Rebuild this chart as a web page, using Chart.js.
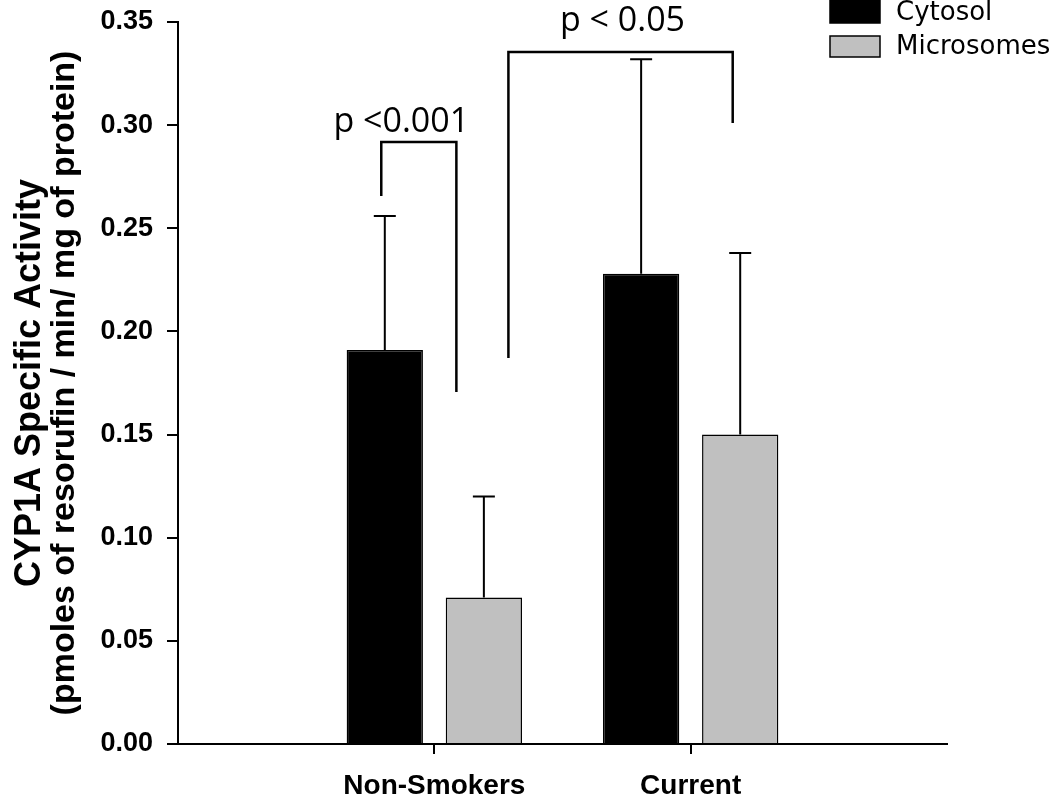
<!DOCTYPE html>
<html>
<head>
<meta charset="utf-8">
<script src="https://cdn.jsdelivr.net/npm/chart.js@4"></script>
<style>
    html, body { margin: 0; padding: 0; background: #fff; }
    #wrap { width: 1050px; height: 796px; }
</style>
</head>
<body>
<div id="wrap"><canvas id="chart" width="1050" height="796"></canvas></div>
<script>
// Values
const categories = ['Non-Smokers', 'Current'];
const cytosol = [0.191, 0.228];
const cytosolErr = [0.065, 0.104];
const microsomes = [0.071, 0.150];
const microsomesErr = [0.049, 0.088];
const yTicks = [0, 0.05, 0.10, 0.15, 0.20, 0.25, 0.30, 0.35];
const yTitle = ['CYP1A Specific Activity', '(pmoles of resorufin / min/ mg of protein)'];

// Significance brackets, in axis units (x = category index, y = value)
const brackets = [
    { text: 'p <0.001', x1: 0.793, x2: 1.086, top: 0.2918, leftEnd: 0.2656, rightEnd: 0.1706, tx: 0.871, ty: 0.2965 },
    { text: 'p < 0.05', x1: 1.289, x2: 2.164, top: 0.3355, leftEnd: 0.1871, rightEnd: 0.301, tx: 1.734, ty: 0.3455 }
];

// empty slots either side so the groups sit where the original axis puts them
const labels = ['', ...categories, ''];
const pad = arr => [null, ...arr, null];

const errorBars = {
    id: 'errorBars',
    afterDatasetsDraw(chart) {
        const ctx = chart.ctx;
        const y = chart.scales.y;
        chart.data.datasets.forEach((ds, i) => {
            const meta = chart.getDatasetMeta(i);
            meta.data.forEach((bar, j) => {
                const v = ds.data[j];
                if (v === null || v === undefined) return;
                const top = y.getPixelForValue(v + ds.errors[j]);
                ctx.save();
                ctx.strokeStyle = '#000';
                ctx.lineWidth = 2;
                ctx.beginPath();
                ctx.moveTo(bar.x, bar.y);
                ctx.lineTo(bar.x, top);
                ctx.moveTo(bar.x - 11, top);
                ctx.lineTo(bar.x + 11, top);
                ctx.stroke();
                ctx.restore();
            });
        });
    }
};

const annotations = {
    id: 'annotations',
    afterDraw(chart) {
        const ctx = chart.ctx;
        const x = chart.scales.x;
        const y = chart.scales.y;
        const area = chart.chartArea;

        // brackets + p values
        ctx.save();
        ctx.strokeStyle = '#000';
        ctx.lineWidth = 2.5;
        ctx.fillStyle = '#000';
        ctx.font = '34px "Open Sans"';
        ctx.textAlign = 'center';
        ctx.textBaseline = 'alphabetic';
        brackets.forEach(b => {
            const xa = x.getPixelForValue(b.x1);
            const xb = x.getPixelForValue(b.x2);
            const yt = y.getPixelForValue(b.top);
            ctx.beginPath();
            ctx.moveTo(xa, y.getPixelForValue(b.leftEnd));
            ctx.lineTo(xa, yt);
            ctx.lineTo(xb, yt);
            ctx.lineTo(xb, y.getPixelForValue(b.rightEnd));
            ctx.stroke();
            ctx.fillText(b.text, x.getPixelForValue(b.tx), y.getPixelForValue(b.ty));
        });
        ctx.restore();

        // y axis title, two lines, first one a bit larger
        ctx.save();
        ctx.fillStyle = '#000';
        ctx.textAlign = 'center';
        ctx.textBaseline = 'middle';
        ctx.translate(0, (area.top + area.bottom) / 2);
        ctx.rotate(-Math.PI / 2);
        ctx.font = 'bold 36px "Liberation Sans"';
        ctx.fillText(yTitle[0], 0, 30);
        ctx.font = 'bold 34px "Liberation Sans"';
        ctx.fillText(yTitle[1], 0, 65);
        ctx.restore();

        // legend, top right
        ctx.save();
        ctx.font = '26px "DejaVu Sans"';
        ctx.textBaseline = 'middle';
        ctx.textAlign = 'left';
        chart.data.datasets.forEach((ds, i) => {
            const top = i === 0 ? 0 : 36;
            const h = i === 0 ? 23 : 21;
            ctx.fillStyle = ds.backgroundColor;
            ctx.fillRect(830, top, 50, h);
            ctx.strokeStyle = '#000';
            ctx.lineWidth = 1.5;
            ctx.strokeRect(830, top, 50, h);
            ctx.fillStyle = '#000';
            ctx.fillText(ds.label, 896, i === 0 ? 13 : 47);
        });
        ctx.restore();
    }
};

const tickColor = c => (c.index === 0 || c.index === labels.length - 1) ? 'rgba(0,0,0,0)' : '#000';

new Chart(document.getElementById('chart'), {
    type: 'bar',
    data: {
        labels: labels,
        datasets: [
            {
                label: 'Cytosol',
                data: pad(cytosol),
                errors: pad(cytosolErr),
                backgroundColor: '#000000',
                borderColor: '#000000',
                borderWidth: 1.5
            },
            {
                label: 'Microsomes',
                data: pad(microsomes),
                errors: pad(microsomesErr),
                backgroundColor: '#c0c0c0',
                borderColor: '#000000',
                borderWidth: 1.5
            }
        ]
    },
    options: {
        responsive: false,
        animation: false,
        devicePixelRatio: 1,
        categoryPercentage: 0.773,
        barPercentage: 0.77,
        layout: {
            padding: { top: 22, right: 103, left: 0, bottom: 0 }
        },
        plugins: {
            legend: { display: false },
            tooltip: { enabled: false }
        },
        scales: {
            x: {
                type: 'category',
                offset: false,
                grid: {
                    display: true,
                    offset: false,
                    drawOnChartArea: false,
                    drawTicks: true,
                    tickLength: 10,
                    lineWidth: 2,
                    color: tickColor,
                    tickColor: tickColor
                },
                border: { display: true, color: '#000', width: 2 },
                ticks: {
                    color: '#000',
                    autoSkip: false,
                    maxRotation: 0,
                    padding: 15,
                    font: { family: 'Liberation Sans', weight: 'bold', size: 28 }
                },
                afterFit(scale) {
                    scale.height = 52;
                    scale.paddingLeft = 0;
                    scale.paddingRight = 0;
                }
            },
            y: {
                min: 0,
                max: 0.35,
                afterBuildTicks(scale) {
                    scale.ticks = yTicks.map(v => ({ value: v }));
                },
                grid: {
                    display: true,
                    drawOnChartArea: false,
                    tickLength: 11,
                    lineWidth: 2,
                    color: '#000'
                },
                border: { display: true, color: '#000', width: 2 },
                ticks: {
                    color: '#000',
                    padding: 14,
                    callback: v => v.toFixed(2),
                    font: { family: 'Liberation Sans', weight: 'bold', size: 27 }
                },
                afterFit(scale) {
                    scale.width = 178;
                    scale.paddingTop = 0;
                    scale.paddingBottom = 0;
                }
            }
        }
    },
    plugins: [errorBars, annotations]
});
</script>
</body>
</html>
